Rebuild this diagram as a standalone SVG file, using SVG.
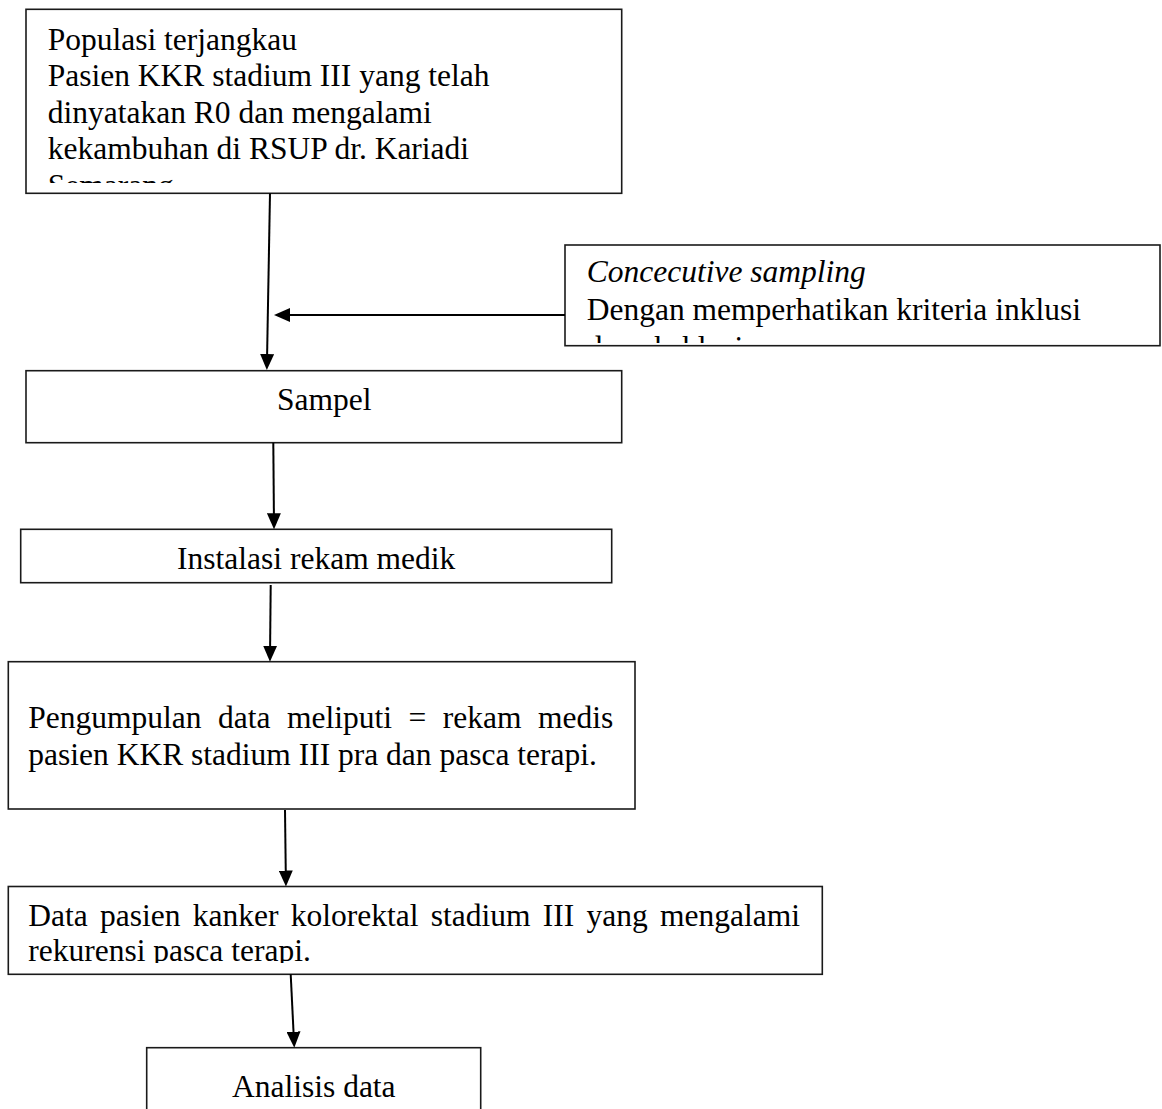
<svg xmlns="http://www.w3.org/2000/svg" width="1162" height="1109" viewBox="0 0 1162 1109">
  <style>
    .box { fill: #ffffff; stroke: #1a1a1a; stroke-width: 1.6; }
    .t { font-family: "Liberation Serif", "Times New Roman", serif; font-size: 31.5px; fill: #000000; }
    .it { font-style: italic; }
    .mid { text-anchor: middle; }
    .conn { stroke: #000000; stroke-width: 2; fill: none; marker-end: url(#arrow); }
  </style>
  <defs>
    <marker id="arrow" viewBox="0 0 16 14" refX="12" refY="7" markerWidth="16" markerHeight="14" markerUnits="userSpaceOnUse" orient="auto">
      <path d="M0,0 L16,7 L0,14 Z" fill="#000000"/>
    </marker>
    <clipPath id="clip1"><rect x="27" y="10" width="594" height="173"/></clipPath>
    <clipPath id="clip2"><rect x="566" y="246" width="593" height="97"/></clipPath>
    <clipPath id="clip5"><rect x="9" y="887" width="813" height="76"/></clipPath>
  </defs>
  <rect x="0" y="0" width="1162" height="1109" fill="#ffffff"/>

  <g id="node-populasi">
    <rect class="box" x="26" y="9.3" width="595.7" height="184"/>
    <g clip-path="url(#clip1)">
      <text class="t" x="47.7" y="49.5">Populasi terjangkau</text>
      <text class="t" x="47.7" y="86">Pasien KKR stadium III yang telah</text>
      <text class="t" x="47.7" y="122.5">dinyatakan R0 dan mengalami</text>
      <text class="t" x="47.7" y="159">kekambuhan di RSUP dr. Kariadi</text>
      <text class="t" x="47.7" y="195.5">Semarang</text>
    </g>
  </g>

  <g id="node-sampling">
    <rect class="box" x="565" y="245" width="595" height="100.7"/>
    <g clip-path="url(#clip2)">
      <text class="t it" x="586.7" y="281.7">Concecutive sampling</text>
      <text class="t" x="586.7" y="320">Dengan memperhatikan kriteria inklusi</text>
      <text class="t" x="586.7" y="358.3">dan eksklusi</text>
    </g>
  </g>

  <g id="node-sampel">
    <rect class="box" x="26" y="370.7" width="595.7" height="72"/>
    <text class="t mid" x="324.3" y="410">Sampel</text>
  </g>

  <g id="node-instalasi">
    <rect class="box" x="20.7" y="529.3" width="591" height="53.4"/>
    <text class="t mid" x="316.2" y="569">Instalasi rekam medik</text>
  </g>

  <g id="node-pengumpulan">
    <rect class="box" x="8.3" y="661.7" width="626.7" height="147.3"/>
    <text class="t" x="28.3" y="728.3" textLength="585" lengthAdjust="spacing" style="word-spacing:8.6px">Pengumpulan data meliputi = rekam medis</text>
    <text class="t" x="28.3" y="765">pasien KKR stadium III pra dan pasca terapi.</text>
  </g>

  <g id="node-data">
    <rect class="box" x="8.3" y="886.5" width="814" height="87.8"/>
    <g clip-path="url(#clip5)">
      <text class="t" x="28.3" y="926" textLength="771.7" lengthAdjust="spacing" style="word-spacing:4.4px">Data pasien kanker kolorektal stadium III yang mengalami</text>
      <text class="t" x="28.3" y="960.5">rekurensi pasca terapi.</text>
    </g>
  </g>

  <g id="node-analisis">
    <rect class="box" x="146.7" y="1047.7" width="334" height="80"/>
    <text class="t mid" x="313.8" y="1097">Analisis data</text>
  </g>

  <g id="connectors">
    <line class="conn" x1="270" y1="193.3" x2="266.9" y2="366"/>
    <line class="conn" x1="565" y1="315" x2="278" y2="315"/>
    <line class="conn" x1="273.3" y1="442.7" x2="274" y2="525.3"/>
    <line class="conn" x1="270.7" y1="585" x2="270" y2="657.7"/>
    <line class="conn" x1="285" y1="810" x2="285.9" y2="882.5"/>
    <line class="conn" x1="290.7" y1="974.3" x2="294.1" y2="1043.7"/>
  </g>
</svg>
